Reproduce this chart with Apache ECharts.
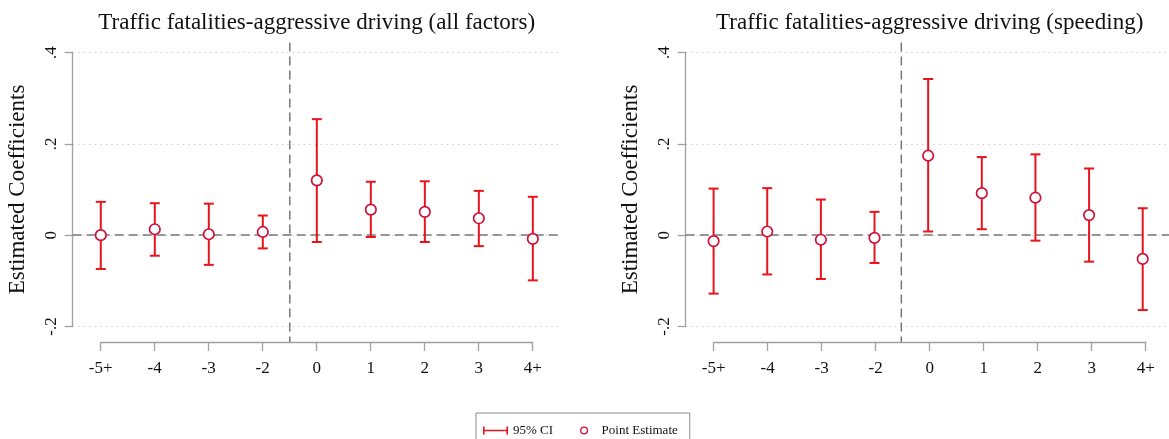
<!DOCTYPE html>
<html>
<head>
<meta charset="utf-8">
<script src="https://cdn.jsdelivr.net/npm/echarts@6/dist/echarts.min.js"></script>
<style>
html,body{margin:0;padding:0;background:#fff;}
#chart{width:1169px;height:439px;}
</style>
</head>
<body>
<div id="chart"></div>
<script>
// ---- data ----
var categories = ['-5+', '-4', '-3', '-2', '0', '1', '2', '3', '4+'];
var titles = ['Traffic fatalities-aggressive driving (all factors)', 'Traffic fatalities-aggressive driving (speeding)'];
var yTicks = [-0.2, 0, 0.2, 0.4];
var yTickLabels = ['-.2', '0', '.2', '.4'];
var eventLine = 3.5; // between -2 and 0

var pointsAll = [0.000, 0.013, 0.002, 0.007, 0.120, 0.056, 0.051, 0.037, -0.008];
var lowAll    = [-0.074, -0.045, -0.065, -0.029, -0.015, -0.004, -0.015, -0.024, -0.099];
var highAll   = [0.073, 0.070, 0.069, 0.043, 0.254, 0.117, 0.118, 0.097, 0.084];

var pointsSpd = [-0.013, 0.008, -0.010, -0.006, 0.174, 0.092, 0.082, 0.044, -0.052];
var lowSpd    = [-0.128, -0.086, -0.096, -0.061, 0.008, 0.013, -0.012, -0.058, -0.164];
var highSpd   = [0.102, 0.103, 0.078, 0.051, 0.342, 0.171, 0.177, 0.146, 0.059];

var panels = [
  {points: pointsAll, low: lowAll, high: highAll},
  {points: pointsSpd, low: lowSpd, high: highSpd}
];

// ---- styling ----
var FONT = '"Liberation Serif", "Times New Roman", serif';
var CI_COLOR = '#e8141c';
var PT_COLOR = '#d0103a';
var REF_COLOR = '#777777';
var AXIS_COLOR = '#a0a0a0';

var chart = echarts.init(document.getElementById('chart'), null, {renderer: 'canvas'});

var panelOffset = 613;
var grids = [], xAxes = [], yAxes = [], series = [], titleArr = [];

panels.forEach(function (p, k) {
  var off = k * panelOffset;
  grids.push({left: 72.7 + off, top: 52.5, width: 486.6, height: 274, containLabel: false});
  grids.push({left: 100.7 + off, top: 330, width: 432, height: 12, containLabel: false});
  var gA = 2 * k, gB = 2 * k + 1;

  xAxes.push({
    gridIndex: gA, type: 'value', min: -0.52, max: 8.49, show: false
  });
  xAxes.push({
    gridIndex: gB, type: 'category', data: categories, boundaryGap: false,
    position: 'bottom',
    axisLine: {show: true, onZero: false, lineStyle: {color: AXIS_COLOR, width: 1.3}},
    axisTick: {show: true, length: 9, alignWithLabel: true, lineStyle: {color: AXIS_COLOR, width: 1.3}},
    axisLabel: {color: '#111', fontFamily: FONT, fontSize: 17, margin: 18, interval: 0},
    splitLine: {show: false}
  });
  yAxes.push({
    gridIndex: gA, type: 'value', min: -0.2, max: 0.4, interval: 0.2,
    position: 'left',
    name: 'Estimated Coefficients', nameLocation: 'middle', nameRotate: 90, nameGap: 43,
    nameTextStyle: {color: '#111', fontFamily: FONT, fontSize: 23},
    axisLine: {show: true, onZero: false, lineStyle: {color: AXIS_COLOR, width: 1.3}},
    axisTick: {show: true, length: 8, lineStyle: {color: AXIS_COLOR, width: 1.3}},
    axisLabel: {
      color: '#111', fontFamily: FONT, fontSize: 17, rotate: 90, margin: 13,
      formatter: function (v) {
        for (var i = 0; i < yTicks.length; i++) {
          if (Math.abs(v - yTicks[i]) < 1e-9) return yTickLabels[i];
        }
        return '';
      }
    },
    splitLine: {show: true, lineStyle: {color: '#cfcfcf', type: [1.5, 4], width: 1}}
  });
  yAxes.push({gridIndex: gB, type: 'value', show: false});

  titleArr.push({
    text: titles[k], left: 316.7 + off, top: 11, textAlign: 'center', padding: 0,
    textStyle: {color: '#111', fontFamily: FONT, fontSize: 23, fontWeight: 'normal'}
  });

  // event line (vertical dashed)
  series.push({
    type: 'custom', xAxisIndex: gA, yAxisIndex: gA, clip: false, silent: true, z: 1,
    data: [[eventLine]],
    renderItem: function (params, api) {
      var cs = params.coordSys;
      var x = api.coord([api.value(0), 0])[0];
      return {
        type: 'line',
        shape: {x1: x, y1: cs.y - 10, x2: x, y2: cs.y + cs.height + 15.5},
        style: {stroke: REF_COLOR, lineWidth: 1.5, lineDash: [9, 5]}
      };
    }
  });

  // CI error bars
  var ciData = p.points.map(function (v, i) { return [i, p.low[i], p.high[i]]; });
  series.push({
    name: '95% CI', type: 'custom', xAxisIndex: gA, yAxisIndex: gA, z: 3,
    itemStyle: {color: CI_COLOR},
    data: ciData,
    renderItem: function (params, api) {
      var lo = api.coord([api.value(0), api.value(1)]);
      var hi = api.coord([api.value(0), api.value(2)]);
      var hw = 5;
      var st = {stroke: CI_COLOR, lineWidth: 2};
      return {
        type: 'group',
        children: [
          {type: 'line', shape: {x1: lo[0], y1: lo[1], x2: hi[0], y2: hi[1]}, style: st},
          {type: 'line', shape: {x1: lo[0] - hw, y1: lo[1], x2: lo[0] + hw, y2: lo[1]}, style: st},
          {type: 'line', shape: {x1: hi[0] - hw, y1: hi[1], x2: hi[0] + hw, y2: hi[1]}, style: st}
        ]
      };
    }
  });

  // point estimates
  var ptData = p.points.map(function (v, i) { return [i, v]; });
  series.push({
    name: 'Point Estimate', type: 'scatter', xAxisIndex: gA, yAxisIndex: gA, z: 4,
    symbol: 'circle', symbolSize: 10.5,
    itemStyle: {color: '#ffffff', borderColor: PT_COLOR, borderWidth: 1.7, opacity: 1},
    data: ptData,
    markLine: {
      silent: true, symbol: 'none', label: {show: false}, z: 2,
      lineStyle: {color: REF_COLOR, type: [9, 5], width: 1.5},
      data: [{yAxis: 0}]
    }
  });
});

var ringIcon = 'path://M5,0A5,5,0,1,1,4.999,0Z M5,1.7A3.3,3.3,0,1,0,5.001,1.7Z';

var option = {
  backgroundColor: '#ffffff',
  animation: false,
  title: titleArr,
  grid: grids,
  xAxis: xAxes,
  yAxis: yAxes,
  legend: {
    left: 476, top: 413,
    orient: 'horizontal',
    itemWidth: 25, itemHeight: 8, itemGap: 27,
    padding: [11, 12, 14, 7],
    borderColor: '#8a8a8a', borderWidth: 1,
    selectedMode: false,
    textStyle: {color: '#111', fontFamily: FONT, fontSize: 13},
    data: [
      {name: '95% CI', icon: 'path://M0,0h1.6v8h-1.6z M1.6,3.2h21.8v1.6h-21.8z M23.4,0h1.6v8h-1.6z',
       itemStyle: {color: CI_COLOR, borderWidth: 0}},
      {name: 'Point Estimate', icon: ringIcon,
       itemStyle: {color: PT_COLOR, borderWidth: 0}}
    ]
  },
  series: series
};

chart.setOption(option);
</script>
</body>
</html>
